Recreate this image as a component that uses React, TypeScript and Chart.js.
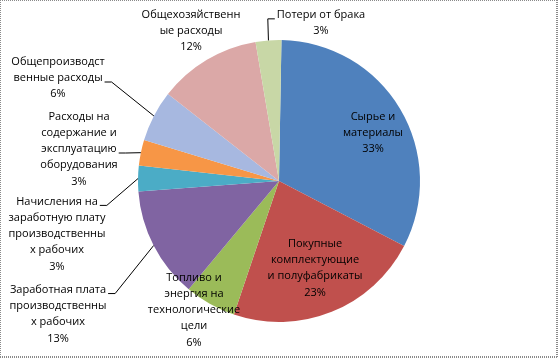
import React, { useEffect, useRef } from "react";
import { Chart, registerables } from "chart.js";

Chart.register(...registerables);

// ---- data ----
const categories = [
  "Сырье и материалы",
  "Покупные комплектующие и полуфабрикаты",
  "Топливо и энергия на технологические цели",
  "Заработная плата производственных рабочих",
  "Начисления на заработную плату производственных рабочих",
  "Расходы на содержание и эксплуатацию оборудования",
  "Общепроизводственные расходы",
  "Общехозяйственные расходы",
  "Потери от брака",
];
const shares = [33, 23, 6, 13, 3, 3, 6, 12, 3];
// label text as wrapped in the picture
const labelLines = [
  ["Сырье и", "материалы"],
  ["Покупные", "комплектующие", "и полуфабрикаты"],
  ["Топливо и", "энергия на", "технологические", "цели"],
  ["Заработная плата", "производственны", "х рабочих"],
  ["Начисления на", "заработную плату", "производственны", "х рабочих"],
  ["Расходы на", "содержание и", "эксплуатацию", "оборудования"],
  ["Общепроизводст", "венные расходы"],
  ["Общехозяйственн", "ые расходы"],
  ["Потери от брака"],
];

// ---- styles / layout ----
const sliceColors = [
  "#4F81BD",
  "#C0504D",
  "#9BBB59",
  "#8064A2",
  "#4BACC6",
  "#F79646",
  "#A7B8E0",
  "#DBA8A7",
  "#C8D7A6",
];
// label block centre offset from pie centre (px); leader: which line, direction
const labelLayout = [
  { dx: 94, dy: -48, leader: null },
  { dx: 36, dy: 87, leader: null },
  { dx: -85, dy: 129, leader: null },
  { dx: -221, dy: 133, leader: { line: 0, dir: 1 } },
  { dx: -222, dy: 53, leader: { line: 0, dir: 1 } },
  { dx: -200, dy: -32, leader: { line: 2, dir: 1 } },
  { dx: -221, dy: -103, leader: { line: 1, dir: 1 } },
  { dx: -88, dy: -150, leader: null },
  { dx: 42, dy: -158, leader: { line: 0, dir: -1 } },
];
const FONT = "11px 'Open Sans'";
const LINE_H = 16.3;

const labelPlugin = {
  id: "pieLabels",
  afterDatasetsDraw(chart: any) {
    const ctx = chart.ctx;
    const meta = chart.getDatasetMeta(0);
    const values = chart.data.datasets[0].data as number[];
    ctx.save();
    ctx.font = FONT;
    ctx.fillStyle = "#000";
    ctx.textAlign = "center";
    ctx.textBaseline = "middle";
    meta.data.forEach((arc: any, i: number) => {
      const { x, y, startAngle, endAngle, outerRadius } = arc.getProps(
        ["x", "y", "startAngle", "endAngle", "outerRadius"],
        true
      );
      const lay = labelLayout[i];
      const lines = [...labelLines[i], values[i] + "%"];
      const cx = x + lay.dx;
      const cy = y + lay.dy;
      const top = cy - ((lines.length - 1) * LINE_H) / 2;
      lines.forEach((t, k) => ctx.fillText(t, cx, top + k * LINE_H));
      if (lay.leader) {
        const ly = top + lay.leader.line * LINE_H;
        const w = ctx.measureText(lines[lay.leader.line]).width;
        const sx = cx + lay.leader.dir * (w / 2 + 2);
        const hx = sx + lay.leader.dir * 7;
        const mid = (startAngle + endAngle) / 2;
        const px = x + Math.cos(mid) * outerRadius;
        const py = y + Math.sin(mid) * outerRadius;
        ctx.beginPath();
        ctx.strokeStyle = "#000";
        ctx.lineWidth = 1;
        ctx.moveTo(sx, ly + 4);
        ctx.lineTo(hx, ly + 4);
        ctx.lineTo(px, py);
        ctx.stroke();
      }
    });
    ctx.restore();
  },
  afterDraw(chart: any) {
    const ctx = chart.ctx;
    const W = chart.width;
    const H = chart.height;
    ctx.save();
    ctx.strokeStyle = "#8a8a8a";
    ctx.setLineDash([1, 1]);
    ctx.lineWidth = 1;
    ctx.beginPath();
    ctx.moveTo(0.5, 0);
    ctx.lineTo(0.5, H);
    ctx.moveTo(0, 0.5);
    ctx.lineTo(W, 0.5);
    ctx.stroke();
    ctx.lineWidth = 2;
    ctx.beginPath();
    ctx.moveTo(W - 1, 0);
    ctx.lineTo(W - 1, H);
    ctx.moveTo(0, H - 1);
    ctx.lineTo(W, H - 1);
    ctx.stroke();
    ctx.restore();
  },
};

export default function App() {
  const ref = useRef<HTMLCanvasElement | null>(null);
  useEffect(() => {
    if (!ref.current) return;
    const chart = new Chart(ref.current, {
      type: "pie",
      data: {
        labels: categories,
        datasets: [
          {
            data: shares,
            backgroundColor: sliceColors,
            borderWidth: 0,
            offset: 0,
            hoverOffset: 0,
          } as any,
        ],
      },
      options: {
        responsive: false,
        animation: false,
        events: [],
        rotation: 1,
        radius: 141,
        layout: { padding: { top: 40, bottom: 36, left: 0, right: 0 } },
        plugins: {
          legend: { display: false },
          tooltip: { enabled: false },
          title: { display: false },
        },
      } as any,
      plugins: [labelPlugin],
    });
    return () => chart.destroy();
  }, []);
  return (
    <div style={{ position: "absolute", left: 0, top: 0, width: 558, height: 358, background: "#fff" }}>
      <canvas ref={ref} width={558} height={358} style={{ display: "block" }} />
    </div>
  );
}
